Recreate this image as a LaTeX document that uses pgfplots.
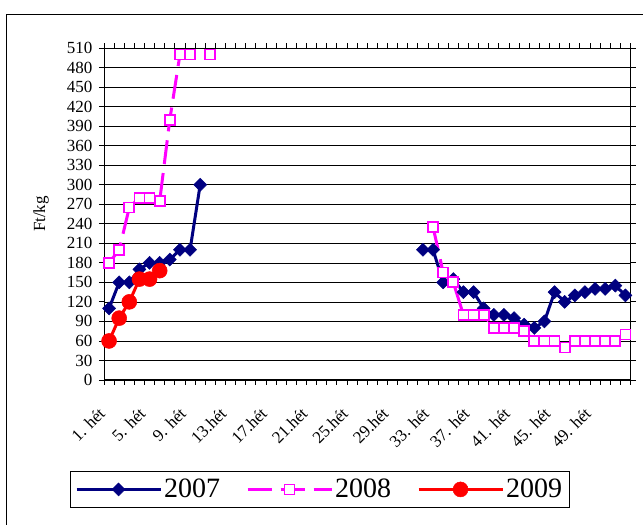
\documentclass[border=0pt]{standalone}
\usepackage{pgfplots}
\pgfplotsset{compat=1.18}
\usepackage{fontspec}
\setmainfont{Liberation Serif}
\definecolor{navy07}{RGB}{0,0,128}
\definecolor{mag08}{RGB}{255,0,255}
\definecolor{red09}{RGB}{255,0,0}
\begin{document}
\begin{tikzpicture}[x=1pt,y=1pt]
\useasboundingbox (0,0) rectangle (643,525);
\draw[line width=1pt] (6.7,-5) -- (6.7,510.5) -- (650,510.5);
\begin{axis}[
  at={(104pt,145pt)}, anchor=south west,
  scale only axis, width=526.5pt, height=332pt,
  xmin=0.5, xmax=52.5, ymin=0, ymax=510,
  ytick={0,30,...,510},
  xtick={1,5,...,49},
  xticklabels={1. hét,5. hét,9. hét,13.hét,17.hét,21.hét,25.hét,29.hét,33. hét,37. hét,41. hét,45. hét,49. hét},
  minor xtick={0.5,1.5,...,52.5},
  major x tick style={draw=none},
  tick align=outside,
  major tick length=5pt, minor tick length=5pt,
  tick style={black, line width=0.8pt},
  ymajorgrids, grid style={black, line width=0.6pt},
  axis line style={black, line width=1pt},
  /pgf/number format/assume math mode=true,
  tick label style={font=\fontsize{17}{17}\selectfont},
  yticklabel style={xshift=-3pt},
  xticklabel style={xshift=-7pt, yshift=-26pt, rotate=45, anchor=east, inner sep=0pt},
  ylabel={Ft/kg},
  ylabel style={at={(axis description cs:-0.1197,0.5)}, anchor=center, font=\fontsize{17}{17}\selectfont},
  clip=false,
  unbounded coords=jump,
  legend columns=3,
  legend image code/.code={\draw[mark repeat=2,mark phase=2,#1] plot coordinates {(0pt,0pt) (42pt,0pt) (84pt,0pt)};},
  legend style={at={(axis description cs:0.4094,-0.274)}, anchor=north, draw=black, line width=0.8pt,
    font=\fontsize{28}{28}\selectfont, inner xsep=5pt, inner ysep=6pt,
    /tikz/every even column/.append style={column sep=24pt}},
]
\addplot[navy07, line width=3pt, mark=square*, mark size=4.6pt, mark options={rotate=45, fill=navy07, line width=0.5pt}] coordinates {
(1,110) (2,150) (3,150) (4,170) (5,180) (6,180) (7,185) (8,200) (9,200) (10,300) (11,nan)
(32,200) (33,200) (34,150) (35,155) (36,135) (37,135) (38,110) (39,100) (40,100) (41,95) (42,85)
(43,80) (44,90) (45,135) (46,120) (47,130) (48,135) (49,140) (50,140) (51,145) (52,130)
};
\addlegendentry{2007}
\addplot[mag08, line width=3pt, dash pattern=on 24pt off 9pt, mark=square*, mark size=5pt, mark options={solid, fill=white, draw=mag08, line width=1.8pt}] coordinates {
(1,180) (2,200) (3,265) (4,280) (5,280) (6,275) (7,400) (8,500) (9,500) (10,nan) (11,500) (12,nan)
(33,235) (34,165) (35,150) (36,100) (37,100) (38,100) (39,80) (40,80) (41,80) (42,75)
(43,60) (44,60) (45,60) (46,50) (47,60) (48,60) (49,60) (50,60) (51,60) (52,70)
};
\addlegendentry{2008}
\addplot[red09, line width=3pt, mark=*, mark size=7.5pt, mark options={fill=red09, line width=0.5pt}] coordinates {
(1,60) (2,95) (3,120) (4,155) (5,155) (6,168)
};
\addlegendentry{2009}
\end{axis}
\end{tikzpicture}
\end{document}
